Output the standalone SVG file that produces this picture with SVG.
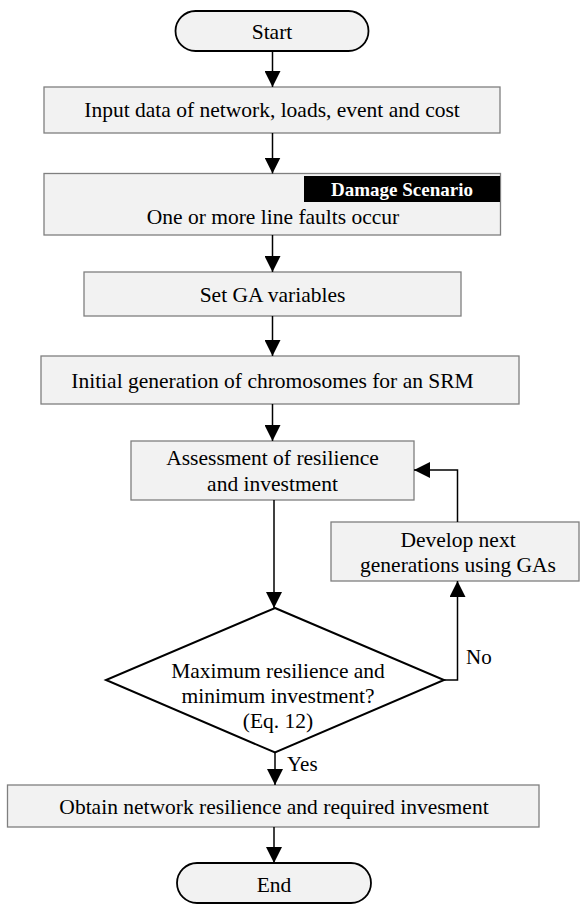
<svg xmlns="http://www.w3.org/2000/svg" width="580" height="904" viewBox="0 0 580 904">
<defs>
<marker id="ah" markerUnits="userSpaceOnUse" markerWidth="16" markerHeight="16" viewBox="0 0 16 16" refX="16" refY="8" orient="auto">
<path d="M0,0 L16,8 L0,16 Z" fill="#000"/>
</marker>
<style>
.box{fill:#f2f2f2;stroke:#7f7f7f;stroke-width:1.3}
.term{fill:#f2f2f2;stroke:#000;stroke-width:1.8}
.dia{fill:#fff;stroke:#000;stroke-width:2}
.t{font-family:"Liberation Serif","Times New Roman",serif;font-size:21.5px;fill:#000;text-anchor:middle}
.lbl{font-family:"Liberation Serif","Times New Roman",serif;font-size:21px;fill:#000}
.ds{font-family:"Liberation Serif","Times New Roman",serif;font-size:19px;font-weight:bold;fill:#fff;text-anchor:middle}
.c{fill:none;stroke:#000;stroke-width:1.5;marker-end:url(#ah)}
</style>
</defs>
<rect width="580" height="904" fill="#fff"/>
<g id="start">
<rect class="term" x="175.5" y="11" width="193" height="40" rx="20" ry="20"/>
<text class="t" x="272" y="39">Start</text>
</g>
<g id="input">
<rect class="box" x="44" y="87" width="456" height="46"/>
<text class="t" x="272" y="117">Input data of network, loads, event and cost</text>
</g>
<g id="damage">
<rect class="box" x="44" y="173.5" width="456.5" height="61.5"/>
<rect x="304" y="176" width="196" height="26" fill="#000"/>
<text class="ds" x="402" y="196">Damage Scenario</text>
<text class="t" x="273" y="224">One or more line faults occur</text>
</g>
<g id="setga">
<rect class="box" x="84" y="272" width="377" height="44"/>
<text class="t" x="272.5" y="302">Set GA variables</text>
</g>
<g id="initial">
<rect class="box" x="41" y="356" width="478" height="48"/>
<text class="t" x="272.5" y="388">Initial generation of chromosomes for an SRM</text>
</g>
<g id="assess">
<rect class="box" x="131" y="441" width="283" height="59"/>
<text class="t" x="272.5" y="465">Assessment of resilience</text>
<text class="t" x="272.5" y="491">and investment</text>
</g>
<g id="develop">
<rect class="box" x="331" y="522" width="248" height="59"/>
<text class="t" x="458" y="547">Develop next</text>
<text class="t" x="458" y="572">generations using GAs</text>
</g>
<g id="decision">
<polygon class="dia" points="275,608 444,680 275,752.5 106,680"/>
<text class="t" x="278" y="678">Maximum resilience and</text>
<text class="t" x="278" y="703">minimum investment?</text>
<text class="t" x="278" y="728">(Eq. 12)</text>
</g>
<g id="obtain">
<rect class="box" x="7.5" y="785" width="531.5" height="42"/>
<text class="t" x="274" y="814">Obtain network resilience and required invesment</text>
</g>
<g id="end">
<rect class="term" x="177" y="863" width="194" height="40" rx="20" ry="20"/>
<text class="t" x="274" y="892">End</text>
</g>
<g id="connectors">
<line class="c" x1="272.5" y1="51" x2="272.5" y2="87"/>
<line class="c" x1="272.5" y1="133" x2="272.5" y2="173.5"/>
<line class="c" x1="272.5" y1="235" x2="272.5" y2="272"/>
<line class="c" x1="272.5" y1="316" x2="272.5" y2="356"/>
<line class="c" x1="272.5" y1="404" x2="272.5" y2="441"/>
<line class="c" x1="274" y1="500" x2="274" y2="608"/>
<polyline class="c" points="444,680 457.5,680 457.5,581"/>
<polyline class="c" points="457.5,522 457.5,470 414,470"/>
<line class="c" x1="275" y1="752.5" x2="275" y2="785"/>
<line class="c" x1="274" y1="827" x2="274" y2="863"/>
<text class="lbl" x="466" y="664">No</text>
<text class="lbl" x="287" y="771">Yes</text>
</g>
</svg>
